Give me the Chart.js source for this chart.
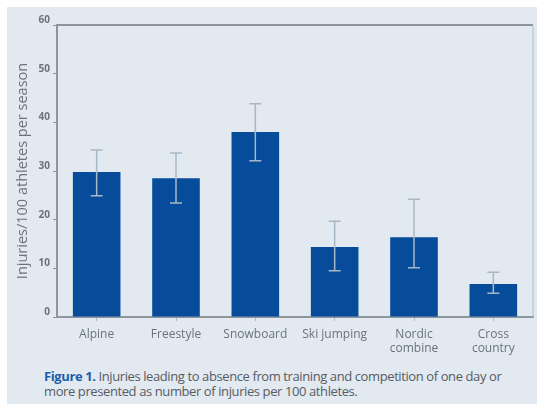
<!DOCTYPE html>
<html>
<head>
<meta charset="utf-8">
<script src="https://cdn.jsdelivr.net/npm/chart.js@4"></script>
<style>
  body { margin: 0; background: #fff; }
  #panel { position: absolute; left: 7px; top: 7px; width: 530px; height: 397px; background: #e2e9f0; }
  #wrap { position: absolute; left: 0; top: 0; width: 537px; height: 360px; }
  #caption { position: absolute; left: 44px; top: 369px; width: 458px; font-family: "Open Sans", sans-serif; font-size: 13px; line-height: 15px; color: #575c63; letter-spacing: -0.4px; }
  #caption b { color: #1c5eac; }
</style>
</head>
<body>
<div id="panel"></div>
<div id="wrap"><canvas id="injury-chart" width="537" height="360"></canvas></div>
<div id="caption"><b>Figure 1.</b> Injuries leading to absence from training and competition of one day or more presented as number of injuries per 100 athletes.</div>
<script>
  const categories = ['Alpine', 'Freestyle', 'Snowboard', 'Ski jumping', ['Nordic', 'combine'], ['Cross', 'country']];
  const injuries = [29.8, 28.5, 38.0, 14.4, 16.4, 6.8];
  const errUpper = [34.3, 33.7, 43.8, 19.7, 24.2, 9.2];
  const errLower = [24.9, 23.4, 32.1, 9.5, 10.1, 4.9];
  const yTicks = [0, 10, 20, 30, 40, 50, 60];

  // error bars + frame on top / right
  const errorBars = {
    id: 'errorBars',
    afterDatasetsDraw(chart) {
      const ctx = chart.ctx;
      const x = chart.scales.x, y = chart.scales.y;
      const area = chart.chartArea;
      ctx.save();
      ctx.strokeStyle = '#8e969d';
      ctx.lineWidth = 2;
      ctx.beginPath();
      ctx.moveTo(area.left, area.top);
      ctx.lineTo(area.right, area.top);
      ctx.stroke();
      ctx.strokeStyle = '#b4bcc4';
      ctx.lineWidth = 1;
      ctx.beginPath();
      ctx.moveTo(area.right, area.top);
      ctx.lineTo(area.right, area.bottom);
      ctx.stroke();

      ctx.strokeStyle = '#a9b8c7';
      ctx.lineWidth = 1.5;
      for (let i = 0; i < injuries.length; i++) {
        const cx = x.getPixelForValue(i);
        const top = y.getPixelForValue(errUpper[i]);
        const bot = y.getPixelForValue(errLower[i]);
        ctx.beginPath();
        ctx.moveTo(cx, top); ctx.lineTo(cx, bot);
        ctx.moveTo(cx - 6, top); ctx.lineTo(cx + 6, top);
        ctx.moveTo(cx - 6, bot); ctx.lineTo(cx + 6, bot);
        ctx.stroke();
      }
      ctx.restore();
    }
  };

  document.addEventListener('DOMContentLoaded', function() {
    var ctx = document.getElementById('injury-chart').getContext('2d');
    new Chart(ctx, {
      type: 'bar',
      data: {
        labels: categories,
        datasets: [{
          label: 'Injuries',
          data: injuries,
          backgroundColor: '#064c9b',
          barPercentage: 0.6,
          categoryPercentage: 1.0
        }]
      },
      plugins: [errorBars],
      options: {
        responsive: false,
        animation: false,
        devicePixelRatio: 1,
        layout: { padding: { top: 25, right: 4, left: 0, bottom: 0 } },
        plugins: {
          legend: { display: false },
          tooltip: { enabled: false }
        },
        scales: {
          x: {
            afterFit: function(scale) { scale.height = 43; },
            grid: { display: true, drawOnChartArea: false, offset: false, tickLength: 4, color: '#b0b8c0' },
            border: { color: '#8e969d', width: 2 },
            ticks: { color: '#6a737c', font: { family: 'Open Sans', size: 12 }, padding: 6, maxRotation: 0 }
          },
          y: {
            min: 0,
            max: 60,
            afterFit: function(scale) { scale.width = 57; },
            afterBuildTicks: function(scale) { scale.ticks = yTicks.map(v => ({ value: v })); },
            grid: { display: true, drawOnChartArea: false, tickLength: 4, color: '#8e969d' },
            border: { color: '#8e969d', width: 2 },
            ticks: { color: '#6a737c', font: { family: 'Open Sans', size: 10, weight: 'bold' }, padding: 3, labelOffset: -5 },
            title: {
              display: true,
              text: 'Injuries/100 athletes per season',
              color: '#6a737c',
              font: { family: 'Open Sans', size: 14.5 },
              padding: { top: 14, bottom: 0 }
            }
          }
        }
      }
    });
  });
</script>
</body>
</html>
